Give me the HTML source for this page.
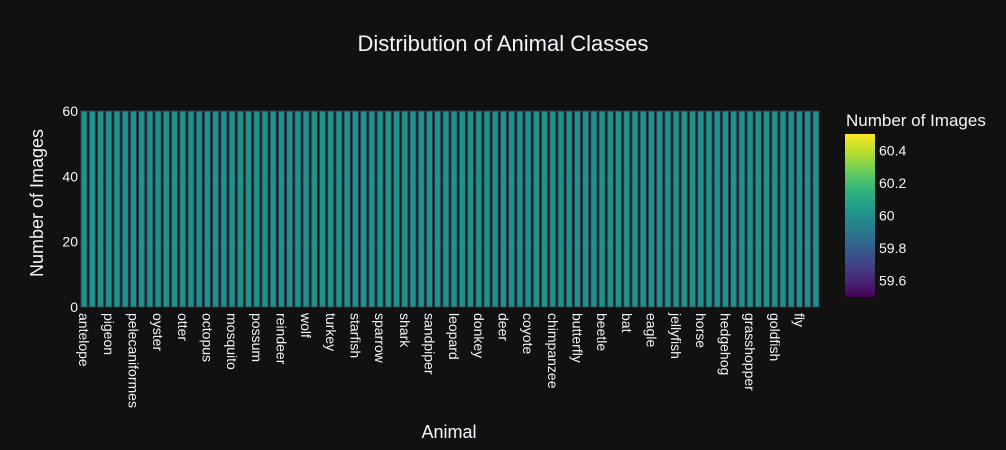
<!DOCTYPE html>
<html><head><meta charset="utf-8"><style>
html,body{margin:0;background:#111111;width:1006px;height:450px;overflow:hidden;}
svg{display:block;}
svg text{font-family:"Liberation Sans",Arial,sans-serif;fill:#f2f5fa;}
</style></head><body>
<svg width="1006" height="450" id="c">
<defs><linearGradient id="vir" x1="0" y1="1" x2="0" y2="0">
<stop offset="0" stop-color="#440154"/><stop offset="0.111" stop-color="#482878"/><stop offset="0.222" stop-color="#3e4989"/><stop offset="0.333" stop-color="#31688e"/><stop offset="0.444" stop-color="#26828e"/><stop offset="0.556" stop-color="#1f9e89"/><stop offset="0.667" stop-color="#35b779"/><stop offset="0.778" stop-color="#6ece58"/><stop offset="0.889" stop-color="#b5de2b"/><stop offset="1" stop-color="#fde725"/>
</linearGradient></defs>
<text x="503" y="51" font-size="22" text-anchor="middle">Distribution of Animal Classes</text>
<g id="grid"></g><g id="bars"></g><g id="xt"></g><g id="yt"></g>
<text transform="translate(43,203) rotate(-90)" font-size="18" text-anchor="middle">Number of Images</text>
<text x="449" y="438" font-size="18" text-anchor="middle">Animal</text>
<text x="846" y="126" font-size="17">Number of Images</text>
<rect x="845" y="134" width="30" height="163" fill="url(#vir)"/>
<g id="cb"></g>
</svg>
<script>
const categories=["antelope","badger","bear","pigeon","bee","bison","pelecaniformes","boar","cat","oyster","caterpillar","cockroach","otter","cow","crab","octopus","crow","dog","mosquito","dolphin","dragonfly","possum","duck","elephant","reindeer","flamingo","fox","wolf","goat","goose","turkey","gorilla","hamster","starfish","hare","hippopotamus","sparrow","hornbill","hummingbird","shark","hyena","kangaroo","sandpiper","koala","ladybugs","leopard","lion","lizard","donkey","lobster","moth","deer","mouse","okapi","coyote","orangutan","owl","chimpanzee","ox","panda","butterfly","parrot","penguin","beetle","pig","porcupine","bat","raccoon","rat","eagle","rhinoceros","seahorse","jellyfish","seal","sheep","horse","snake","squid","hedgehog","squirrel","swan","grasshopper","tiger","turtle","goldfish","whale","wombat","fly","woodpecker","zebra"];
const counts=categories.map(()=>60);
const yTicks=[0,20,40,60];
const cbTicks=[59.6,59.8,60,60.2,60.4];
const ns="http://www.w3.org/2000/svg";
const X0=80,X1=820,Y0=307,Y1=111;
const bw=(X1-X0)/categories.length;
const xs=i=>X0+i*bw;
const ys=v=>Y0-(v/60)*(Y0-Y1);
const cbY=v=>297-(v-59.5)*163;
function mk(t,a,p){const e=document.createElementNS(ns,t);for(const k in a)e.setAttribute(k,a[k]);document.getElementById(p).appendChild(e);return e;}
yTicks.forEach(v=>{
  if(v>0){const g=mk('line',{x1:X0,x2:X1,y1:ys(v),y2:ys(v),stroke:'#283442','stroke-width':1},'grid');
  
  }
  const t=mk('text',{x:78,y:ys(v)+5,'font-size':14,'text-anchor':'end'},'yt');t.textContent=v;
  
  
});
categories.forEach((c,i)=>{
  const r=mk('rect',{x:xs(i)+1,y:ys(counts[i]),width:bw-2,height:Y0-ys(counts[i]),fill:'#21918c',stroke:'#2a3f4f','stroke-width':1},'bars');
  
  
  if(i%3===0){const cx=xs(i)+bw/2;
    const t=mk('text',{transform:`translate(${cx-5},313) rotate(90)`,'font-size':14},'xt');t.textContent=c;
    
    }
});
cbTicks.forEach(v=>{const t=mk('text',{x:879,y:cbY(v)+5,'font-size':14},'cb');t.textContent=(+v.toFixed(1)).toString();
  
  });
</script>
</body></html>
